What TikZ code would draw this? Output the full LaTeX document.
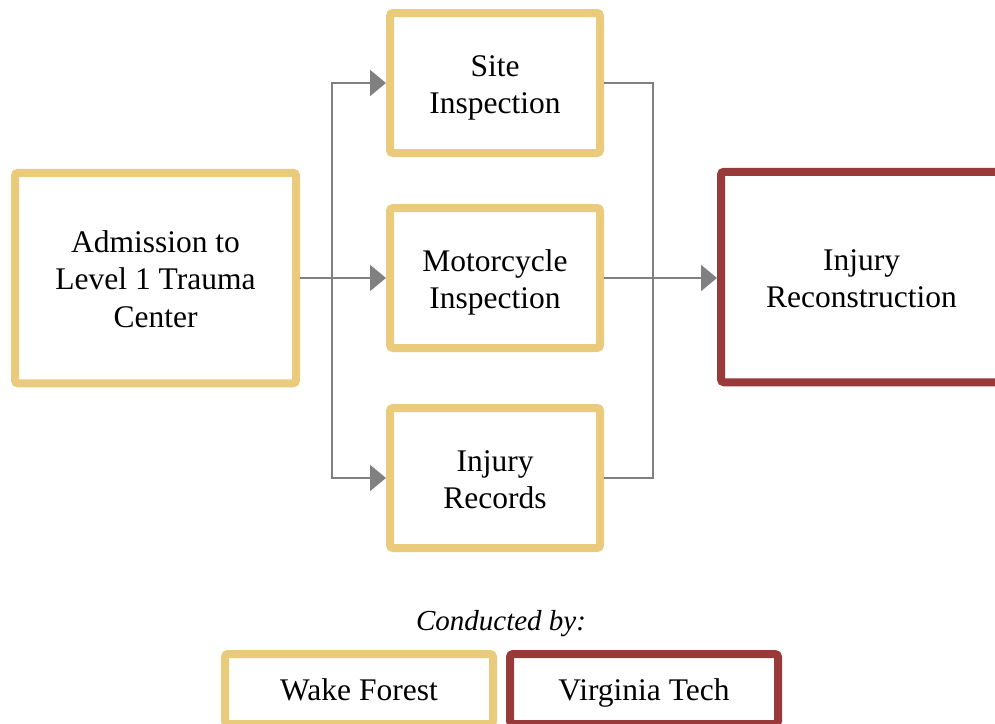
\documentclass[tikz,border=0pt]{standalone}
\usepackage{fontspec}
\setmainfont{Liberation Serif}
\usetikzlibrary{arrows.meta}
\definecolor{wfgold}{HTML}{E9CB7B}
\definecolor{vtred}{HTML}{983A39}
\definecolor{flowgray}{HTML}{808080}
% fixed-height line strut so every text block centres the same way
\newcommand\lnstrut{\rule[-7pt]{0pt}{37.5pt}}
\begin{document}
\begin{tikzpicture}[x=1pt,y=-1pt,
  box/.style={draw=#1,line width=8pt,rounded corners=3pt,fill=white,inner sep=0pt,
    align=center,font=\fontsize{31.5}{37.5}\selectfont},
  conn/.style={draw=flowgray,line width=2pt},
  arr/.style={conn,-{Triangle[length=16pt,width=26pt]}}]
\useasboundingbox (0,0) rectangle (995,723);
% process boxes
\node[box=wfgold,minimum width=281pt,minimum height=210.5pt] (adm) at (155.5,278) {\lnstrut Admission to\\\lnstrut Level 1 Trauma\\\lnstrut Center};
\node[box=wfgold,minimum width=210pt,minimum height=140pt] (site) at (495,83) {\lnstrut Site\\\lnstrut Inspection};
\node[box=wfgold,minimum width=210pt,minimum height=140pt] (moto) at (495,278) {\lnstrut Motorcycle\\\lnstrut Inspection};
\node[box=wfgold,minimum width=210pt,minimum height=140pt] (rec) at (495,478) {\lnstrut Injury\\\lnstrut Records};
\node[box=vtred,minimum width=281pt,minimum height=210.5pt] (recon) at (861.5,277) {\lnstrut Injury\\\lnstrut Reconstruction};
% branch and merge points
\coordinate (split) at (332,278);
\coordinate (mergetop) at (653,83);
\coordinate (mergebot) at (653,478);
% connectors
\draw[arr] (adm.east) -- (moto.west);
\draw[arr] (split) |- (site.west);
\draw[arr] (split) |- (rec.west);
\draw[conn] (site.east) -- (mergetop) -- (mergebot) -- (rec.east);
\draw[arr] (moto.east) -- (moto.east -| recon.west);
% legend
\node[inner sep=0pt,font=\fontsize{29}{37.5}\selectfont\itshape] (cby) at (501,618.5) {\lnstrut Conducted by:};
\node[box=wfgold,minimum width=268pt,minimum height=70pt] (wf) at (359,689) {\lnstrut Wake Forest};
\node[box=vtred,minimum width=268pt,minimum height=70pt] (vt) at (644,689) {\lnstrut Virginia Tech};
\end{tikzpicture}
\end{document}
